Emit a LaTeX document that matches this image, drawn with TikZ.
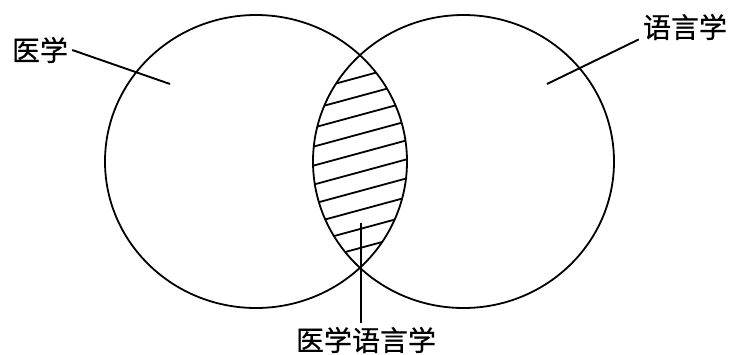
\documentclass[tikz,border=0pt]{standalone}
\usepackage{fontspec}
\newfontfamily\cjk[FakeBold=0.6]{Noto Sans CJK SC}
\usetikzlibrary{positioning}
\tikzset{
  venn/.style={x=1pt,y=-1pt},
  term/.style={font=\cjk\fontsize{28}{28}\selectfont,inner sep=4pt},
  ring/.style={draw=black,line width=1.8pt},
  pointer/.style={draw=black,line width=1.9pt},
  hatch/.style={draw=black,line width=1.8pt},
}
\begin{document}
\begin{tikzpicture}[venn]
\useasboundingbox (0,0) rectangle (733,354);
\coordinate (medc) at (256,161.5);
\coordinate (lingc) at (463.5,161.5);
% shaded overlap
\begin{scope}
  \clip (medc) ellipse [x radius=151, y radius=146.5];
  \clip (lingc) ellipse [x radius=150.5, y radius=146.5];
  \foreach \y in {77,96,...,248}
    \draw[hatch] (290,\y+19) -- (430,\y-19);
\end{scope}
\draw[ring] (medc) ellipse [x radius=151, y radius=146.5];
\draw[ring] (lingc) ellipse [x radius=150.5, y radius=146.5];
% labels
\node[term] (med) at (40,50) {医学};
\node[term] (ling) at (685,27) {语言学};
\node[term] (medling) at (366,340) {医学语言学};
\coordinate (medin) at (170,84);
\coordinate (lingin) at (547,84);
\coordinate (lens) at (361,223);
\draw[pointer] (med.east) -- (medin);
\draw[pointer] (ling.195) -- (lingin);
\draw[pointer] (lens) -- (lens |- medling.north);
\end{tikzpicture}
\end{document}
